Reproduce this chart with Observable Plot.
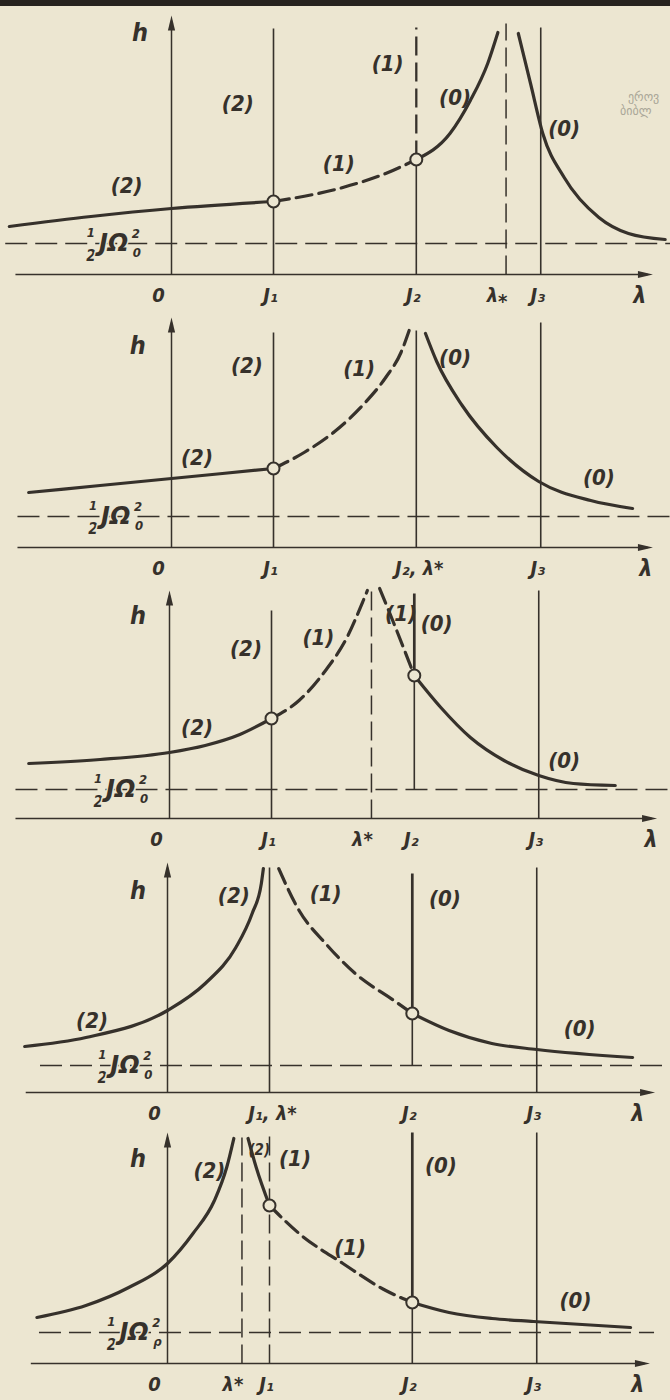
<!DOCTYPE html>
<html>
<head>
<meta charset="utf-8">
<script src="https://cdn.jsdelivr.net/npm/d3@7"></script>
<script src="https://cdn.jsdelivr.net/npm/@observablehq/plot@0.6"></script>
<style>
  html, body { margin: 0; padding: 0; background: #ece6d1; }
  #sheet { position: relative; width: 670px; height: 1400px; overflow: hidden; background: #ece6d1; }
  #edge { position: absolute; left: 0; top: 0; width: 670px; height: 6px; background: #27231f; }
  .panel { position: absolute; left: 0; width: 670px; }
  .stamp { position: absolute; color: #aaa698; font: 12px 'DejaVu Sans', sans-serif; white-space: nowrap; }
</style>
</head>
<body>
<div id="sheet">
  <div id="edge"></div>
  <div class="stamp" style="left:628px;top:90px">ეროვ</div>
  <div class="stamp" style="left:620px;top:104px">ბიბლ</div>
</div>
<script>
// ---- values shared by the five diagrams ----------------------------------
const J1 = 1.0, J2 = 2.4, J3 = 3.62;                  // critical moments of inertia on the λ axis
const lambdaStar = [3.28, 2.4, 1.98, 1.0, 0.73];      // λ* in diagrams 1–5
const restLevel  = [0.31, 0.31, 0.29, 0.27, 0.31];    // level ½JΩ0² in diagrams 1–5
const restSub    = ["0", "0", "0", "0", "ρ"];

// ---- diagram 1: λ* between J2 and J3 -------------------------------------
const d1Left2  = [[-1.59, 0.48], [-0.79, 0.58], [0, 0.66], [1.0, 0.73]];
const d1Mid1   = [[1.0, 0.73], [1.68, 0.87], [2.10, 1.01], [2.4, 1.15]];
const d1Up0    = [[2.4, 1.15], [2.73, 1.41], [2.93, 1.74], [3.10, 2.11], [3.20, 2.42]];
const d1Right0 = [[3.40, 2.41], [3.52, 1.91], [3.64, 1.41], [3.85, 0.97], [4.19, 0.57], [4.48, 0.41], [4.84, 0.35]];
const tops1 = { h: 2.59, J1: 2.46, J2: 2.47, star: 2.51, J3: 2.47 };
const tags1 = [["(2)", 0.65, 1.71], ["(1)", 2.12, 2.11], ["(0)", 2.78, 1.77], ["(0)", 3.85, 1.46], ["(1)", 1.64, 1.11], ["(2)", -0.44, 0.89]];
const ticks1 = [["0", 0], ["J₁", J1], ["J₂", J2], ["λ⁎", lambdaStar[0]], ["J₃", J3]];

// ---- diagram 2: λ* = J2 ---------------------------------------------------
const d2Left2  = [[-1.40, 0.55], [-0.70, 0.62], [0, 0.69], [1.0, 0.79]];
const d2Mid1   = [[1.0, 0.79], [1.30, 0.95], [1.60, 1.16], [1.90, 1.45], [2.10, 1.70], [2.25, 1.95], [2.33, 2.17]];
const d2Right0 = [[2.49, 2.14], [2.60, 1.86], [2.85, 1.42], [3.19, 1.00], [3.60, 0.66], [4.11, 0.47], [4.52, 0.39]];
const tops2 = { h: 2.30, J1: 2.15, J2: 2.17, J3: 2.25 };
const tags2 = [["(2)", 0.74, 1.82], ["(1)", 1.84, 1.79], ["(0)", 2.78, 1.90], ["(0)", 4.19, 0.70], ["(2)", 0.25, 0.90]];
const ticks2 = [["0", 0], ["J₁", J1], ["J₂, λ*", J2], ["J₃", J3]];

// ---- diagram 3: λ* between J1 and J2 -------------------------------------
const d3Left2  = [[-1.38, 0.55], [-0.68, 0.59], [0, 0.66], [0.35, 0.73], [0.69, 0.84], [1.0, 1.0]];
const d3Mid1   = [[1.0, 1.0], [1.27, 1.18], [1.53, 1.48], [1.74, 1.81], [1.90, 2.18], [1.94, 2.28]];
const d3Fall1  = [[2.06, 2.30], [2.20, 1.95], [2.4, 1.43]];
const d3Right0 = [[2.4, 1.43], [2.66, 1.11], [2.95, 0.81], [3.28, 0.58], [3.62, 0.43], [3.96, 0.35], [4.37, 0.33]];
const tops3 = { h: 2.28, J1: 2.08, J2: 2.25, star: 2.31, J3: 2.28 };
const tags3 = [["(2)", 0.75, 1.70], ["(1)", 1.46, 1.81], ["(1)", 2.27, 2.05], ["(0)", 2.62, 1.95], ["(2)", 0.27, 0.91], ["(0)", 3.87, 0.58]];
const ticks3 = [["0", 0], ["J₁", J1], ["λ*", lambdaStar[2]], ["J₂", J2], ["J₃", J3]];

// ---- diagram 4: λ* = J1 ---------------------------------------------------
const d4Left2  = [[-1.40, 0.46], [-0.80, 0.55], [0, 0.82], [0.37, 1.09], [0.67, 1.45], [0.83, 1.79], [0.92, 2.09], [0.94, 2.24]];
const d4Mid1   = [[1.09, 2.24], [1.29, 1.82], [1.55, 1.49], [1.84, 1.19], [2.22, 0.92], [2.4, 0.79]];
const d4Right0 = [[2.4, 0.79], [2.76, 0.62], [3.18, 0.49], [3.62, 0.43], [4.56, 0.35]];
const tops4 = { h: 2.30, J1: 2.25, J2: 2.19, J3: 2.25 };
const tags4 = [["(2)", 0.65, 1.97], ["(1)", 1.55, 1.99], ["(0)", 2.72, 1.94], ["(2)", -0.74, 0.72], ["(0)", 4.04, 0.64]];
const ticks4 = [["0", 0], ["J₁, λ*", J1], ["J₂", J2], ["J₃", J3]];

// ---- diagram 5: λ* below J1 -----------------------------------------------
const d5Left2  = [[-1.28, 0.46], [-0.80, 0.58], [-0.38, 0.76], [0, 1.0], [0.25, 1.30], [0.46, 1.63], [0.58, 1.96], [0.65, 2.25]];
const d5Right2 = [[0.79, 2.25], [0.87, 1.96], [1.0, 1.58]];
const d5Mid1   = [[1.0, 1.58], [1.29, 1.30], [1.72, 1.0], [2.14, 0.73], [2.4, 0.61]];
const d5Right0 = [[2.4, 0.61], [2.76, 0.51], [3.18, 0.45], [3.59, 0.42], [4.54, 0.36]];
const tops5 = { h: 2.31, J1: 2.31, J2: 2.31, star: 2.26, J3: 2.31 };
const tags5 = [["(2)", 0.41, 1.93], ["(1)", 1.25, 2.05], ["(0)", 2.68, 1.98], ["(1)", 1.79, 1.16], ["(0)", 4.0, 0.63]];
const tags5Narrow = [["(2)", 0.90, 2.13]];
const ticks5 = [["0", 0], ["λ*", lambdaStar[4]], ["J₁", J1], ["J₂", J2], ["J₃", J3]];

// ---- label anchors and line extents per diagram ----------------------------
const hAt         = [[-0.31, 2.42], [-0.33, 2.02], [-0.31, 2.03], [-0.29, 2.02], [-0.29, 2.05]];
const axisSpan    = [[-1.53, 4.72], [-1.51, 4.72], [-1.51, 4.78], [-1.39, 4.78], [-1.34, 4.73]];
const restSpan    = [[-1.63, 4.89], [-1.51, 4.89], [-1.51, 4.91], [-1.25, 4.93], [-1.26, 4.77]];
const lambdaAt    = [4.59, 4.65, 4.72, 4.61, 4.61];
const restLabelAt = [-0.79, -0.77, -0.70, -0.64, -0.55];

// ---- layout -----------------------------------------------------------------
const X0 = [171, 171, 169, 167, 167];          // pixel column of the h axis
const BASELINE = [274, 547, 818, 1092, 1363];  // pixel row of the λ axis on the sheet
const PX = 102;                                // pixels per λ unit
const INNER = 270;                             // λ axis row inside each svg
const INK = "#36312b", PAPER = "#ece6d1";
const FONT = "'DejaVu Sans Condensed','DejaVu Sans',sans-serif";

const arrowRight = { draw(c) { c.moveTo(0, 0); c.lineTo(-15, -3.6); c.lineTo(-15, 3.6); c.closePath(); } };
const arrowUp    = { draw(c) { c.moveTo(0, 0); c.lineTo(-3.6, 15); c.lineTo(3.6, 15); c.closePath(); } };

const last = (a) => a[a.length - 1];

const diagrams = [
  { // 1
    solid: [d1Left2, d1Up0, d1Right0], dashed: [d1Mid1],
    points: [last(d1Left2), last(d1Mid1)],
    thin: [[J1, 0, J1, tops1.J1], [J2, 0, J2, last(d1Mid1)[1]], [J3, 0, J3, tops1.J3]],
    thick: [], dash: [[lambdaStar[0], 0, lambdaStar[0], tops1.star]],
    thickDash: [[J2, last(d1Mid1)[1], J2, tops1.J2]],
    tops: tops1, tags: tags1, narrow: [], ticks: ticks1
  },
  { // 2
    solid: [d2Left2, d2Right0], dashed: [d2Mid1],
    points: [last(d2Left2)],
    thin: [[J1, 0, J1, tops2.J1], [J2, 0, J2, tops2.J2], [J3, 0, J3, tops2.J3]],
    thick: [], dash: [], thickDash: [],
    tops: tops2, tags: tags2, narrow: [], ticks: ticks2
  },
  { // 3
    solid: [d3Left2, d3Right0], dashed: [d3Mid1, d3Fall1],
    points: [last(d3Left2), last(d3Fall1)],
    thin: [[J1, 0, J1, tops3.J1], [J2, restLevel[2], J2, last(d3Fall1)[1]], [J3, 0, J3, tops3.J3]],
    thick: [[J2, last(d3Fall1)[1], J2, tops3.J2]],
    dash: [[lambdaStar[2], 0, lambdaStar[2], tops3.star]], thickDash: [],
    tops: tops3, tags: tags3, narrow: [], ticks: ticks3
  },
  { // 4
    solid: [d4Left2, d4Right0], dashed: [d4Mid1],
    points: [last(d4Mid1)],
    thin: [[J1, 0, J1, tops4.J1], [J2, restLevel[3], J2, last(d4Mid1)[1]], [J3, 0, J3, tops4.J3]],
    thick: [[J2, last(d4Mid1)[1], J2, tops4.J2]],
    dash: [], thickDash: [],
    tops: tops4, tags: tags4, narrow: [], ticks: ticks4
  },
  { // 5
    solid: [d5Left2, d5Right2, d5Right0], dashed: [d5Mid1],
    points: [last(d5Right2), last(d5Mid1)],
    thin: [[J2, 0, J2, last(d5Mid1)[1]], [J3, 0, J3, tops5.J3]],
    thick: [[J2, last(d5Mid1)[1], J2, tops5.J2]],
    dash: [[lambdaStar[4], 0, lambdaStar[4], tops5.star], [J1, 0, J1, tops5.J1]], thickDash: [],
    tops: tops5, tags: tags5, narrow: tags5Narrow, ticks: ticks5
  }
];

// horizontal nudge of the labels under the λ axis
const tickDx = (t) => t === "0" ? -13 : t.includes(",") ? 3 : t.startsWith("λ") ? -9 : -3;

function diagram(k, d) {
  const x0 = X0[k];
  const L = (rows, w, dash) => Plot.link(rows.map(([x1, y1, x2, y2]) => ({x1, y1, x2, y2})),
    {x1: "x1", y1: "y1", x2: "x2", y2: "y2", stroke: INK, strokeWidth: w, strokeDasharray: dash});
  const C = (pts, dash) => Plot.line(pts, {x: p => p[0], y: p => p[1], curve: "monotone-x",
    stroke: INK, strokeWidth: 3.2, strokeDasharray: dash, strokeLinejoin: "round"});
  const T = (rows, size, extra = {}) => Plot.text(rows, {x: r => r[1], y: r => r[2], text: r => r[0],
    fontFamily: FONT, fontSize: size, fontStyle: "italic", fontWeight: "bold", fill: INK, ...extra});
  const [a0, a1] = axisSpan[k], [r0, r1] = restSpan[k], rest = restLevel[k], fx = restLabelAt[k];
  const below = -0.21;
  return Plot.plot({
    width: 670, height: 310, margin: 0,
    style: {background: "transparent", overflow: "visible"},
    x: {domain: [-x0 / PX, (670 - x0) / PX], range: [0, 670], axis: null},
    y: {domain: [0, 2.7], range: [INNER, 0], axis: null},
    marks: [
      L([[r0, rest, r1, rest]], 1.3, "22,8"),
      L([[a0, 0, a1 - 0.05, 0], [0, 0, 0, d.tops.h - 0.05]], 1.5),
      Plot.dot([[a1, 0]], {x: p => p[0], y: p => p[1], symbol: arrowRight, fill: INK, stroke: "none"}),
      Plot.dot([[0, d.tops.h]], {x: p => p[0], y: p => p[1], symbol: arrowUp, fill: INK, stroke: "none"}),
      L(d.thin, 1.6), L(d.thick, 2.7), L(d.dash, 1.5, "19,7"), L(d.thickDash, 2.3, "19,7"),
      ...d.solid.map(p => C(p)),
      ...d.dashed.map(p => C(p, "16,7")),
      Plot.dot(d.points, {x: p => p[0], y: p => p[1], r: 6, fill: PAPER, stroke: INK, strokeWidth: 2}),
      T(d.tags, 22),
      T(d.narrow, 15),
      T([["h", hAt[k][0], hAt[k][1]]], 25),
      ...d.ticks.map(([t, v]) => T([[t, v, below]], 20, {dx: tickDx(t)})),
      T([["λ", lambdaAt[k], below]], 23),
      // ½JΩ0² next to the rest level
      T([["1", fx, rest]], 13, {dy: -11}),
      T([["2", fx, rest]], 15, {dy: 13}),
      T([["JΩ", fx, rest]], 24, {dx: 8, textAnchor: "start", fontFamily: "'DejaVu Sans',sans-serif",
        stroke: PAPER, strokeWidth: 3, paintOrder: "stroke"}),
      T([["2", fx, rest]], 13, {dx: 45, dy: -10}),
      T([[restSub[k], fx, rest]], 13, {dx: 46, dy: 9})
    ]
  });
}

const sheet = document.getElementById("sheet");
diagrams.forEach((d, k) => {
  const wrap = document.createElement("div");
  wrap.className = "panel";
  wrap.style.top = (BASELINE[k] - INNER) + "px";
  wrap.appendChild(diagram(k, d));
  sheet.appendChild(wrap);
});
</script>
</body>
</html>
